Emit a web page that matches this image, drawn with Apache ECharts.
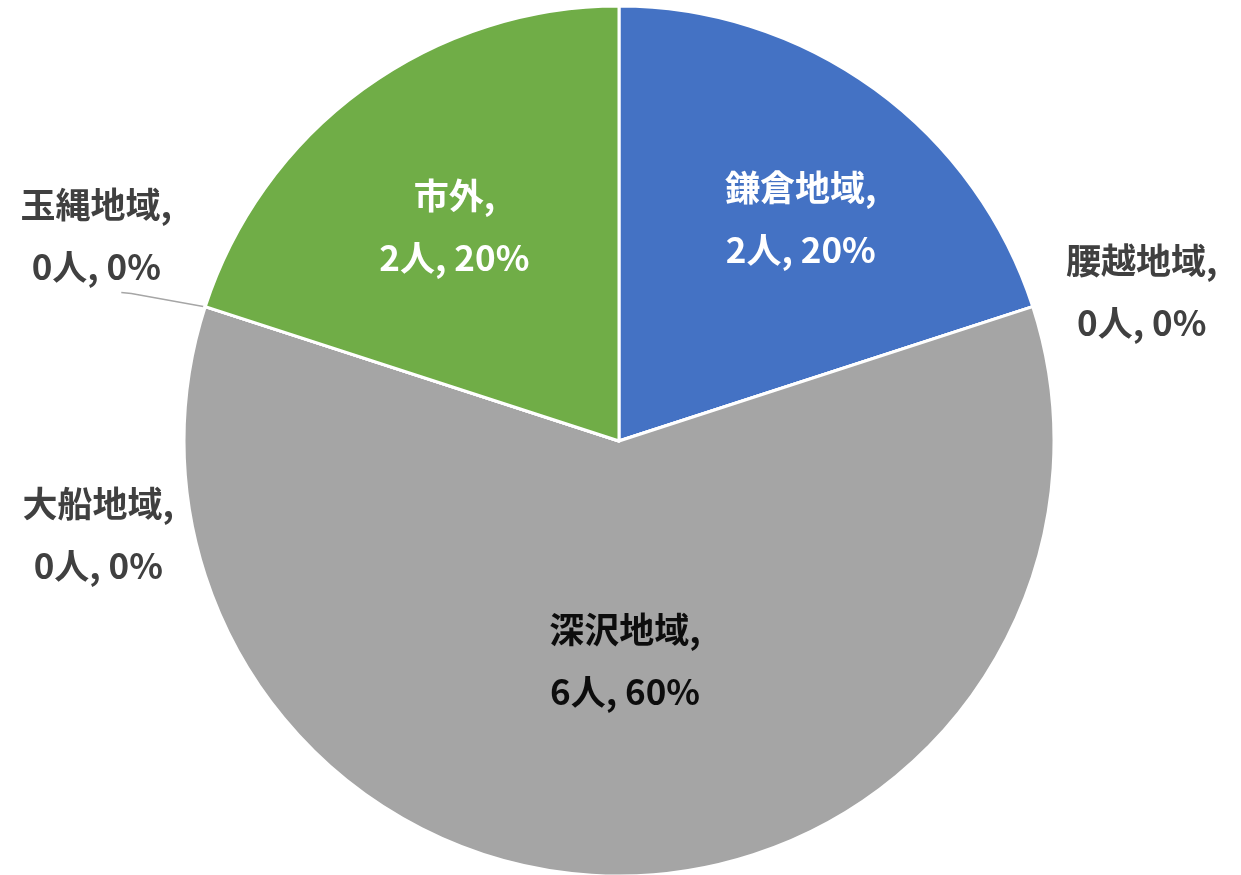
<!DOCTYPE html>
<html>
<head>
<meta charset="utf-8">
<script src="https://cdn.jsdelivr.net/npm/echarts@6/dist/echarts.min.js"></script>
<style>
  html, body { margin: 0; padding: 0; background: #fff; }
  #pie { width: 1241px; height: 875px; }
</style>
</head>
<body>
<div id="pie"></div>
<script>
// 地域別の人数
const areaNames = ['鎌倉地域', '腰越地域', '深沢地域', '大船地域', '玉縄地域', '市外'];
const areaCounts = [2, 0, 6, 0, 0, 2];

const palette = ['#4472C4', '#ED7D31', '#A5A5A5', '#FFC000', '#5B9BD5', '#70AD47'];
const CX = 619, CY = 441, R = 435;

// ラベルの置き場所（扇の中心角に対する半径比とずらし量）
const labelPlace = [
  { f: 0.66, dx: 13, dy: 10, color: '#fff' },
  { f: 1.0, dx: 109, dy: -15, color: '#404040' },
  { f: 0.505, dx: 6, dy: 0, color: '#0d0d0d' },
  { f: 1.0, dx: -107, dy: 228, color: '#404040' },
  { f: 1.0, dx: -109, dy: -71, color: '#404040', line: true },
  { f: 0.64, dx: -1, dy: 11, color: '#fff' }
];

const total = areaCounts.reduce((a, b) => a + b, 0);
function midAngle (i) {
  let before = 0;
  for (let k = 0; k < i; k++) before += areaCounts[k];
  return (before + areaCounts[i] / 2) / total * 360;
}

const chart = echarts.init(document.getElementById('pie'));
const option = {
  animation: false,
  series: [{
    type: 'pie',
    center: [CX, CY],
    radius: R,
    startAngle: 90,
    clockwise: true,
    percentPrecision: 0,
    avoidLabelOverlap: false,
    itemStyle: { borderColor: '#fff', borderWidth: 3 },
    label: {
      show: true,
      formatter: '{b},\n{c}人, {d}%',
      fontFamily: '"Noto Sans CJK JP", "Noto Sans", sans-serif',
      fontSize: 35,
      fontWeight: 'bold',
      lineHeight: 62,
      align: 'center'
    },
    labelLine: { show: false },
    labelLayout: function (params) {
      const i = params.dataIndex;
      const p = labelPlace[i];
      const a = midAngle(i) * Math.PI / 180;
      const x = CX + R * p.f * Math.sin(a) + p.dx;
      const y = CY - R * p.f * Math.cos(a) + p.dy;
      const out = { x: x, y: y, align: 'center', verticalAlign: 'middle' };
      if (p.line) {
        const ex = CX + R * Math.sin(a), ey = CY - R * Math.cos(a);
        out.labelLinePoints = [[ex - 2, ey], [x + 35, y + 58], [x + 25, y + 57]];
      }
      return out;
    },
    data: areaNames.map((n, i) => ({
      name: n,
      value: areaCounts[i],
      itemStyle: { color: palette[i] },
      label: { color: labelPlace[i].color, position: labelPlace[i].f >= 1 ? 'outside' : 'inside' },
      labelLine: { show: !!labelPlace[i].line, lineStyle: { color: '#a6a6a6', width: 1.5 } }
    }))
  }]
};
chart.setOption(option);
</script>
</body>
</html>
